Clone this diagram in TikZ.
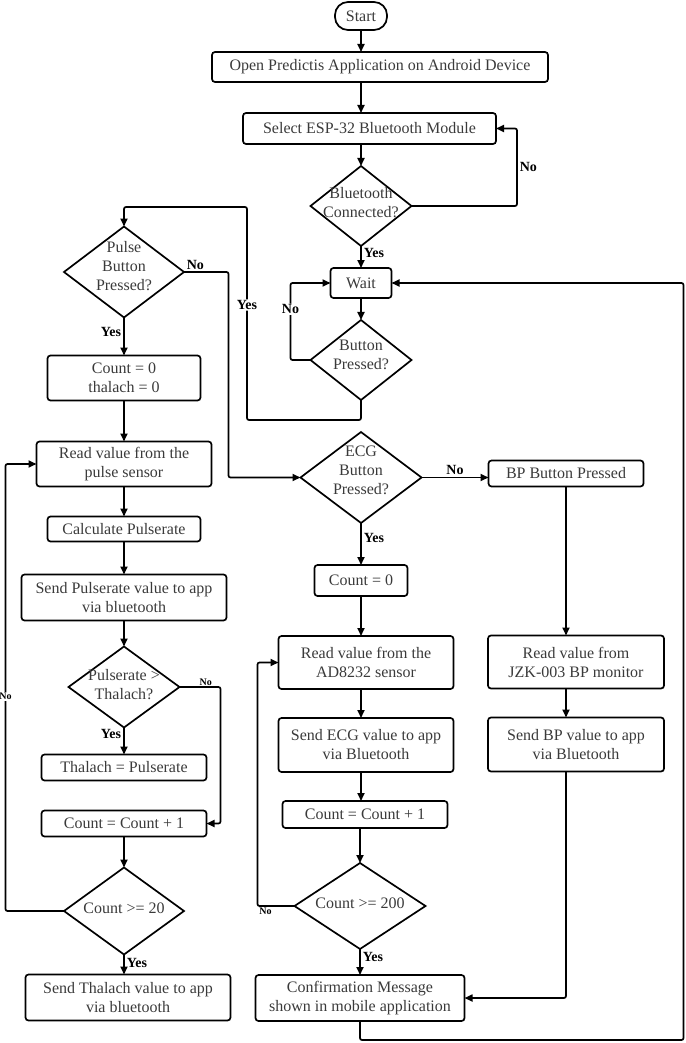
\documentclass[tikz,border=0pt]{standalone}
\usepackage{fontspec}
\setmainfont{Liberation Serif}
\usetikzlibrary{arrows.meta,positioning,shapes.geometric}
\definecolor{ink}{HTML}{3A3A3A}

\begin{document}
\begin{tikzpicture}[
  x=1pt, y=-1pt,
  font=\fontsize{16}{19}\selectfont,
  term/.style={draw,line width=1.7pt,outer sep=0pt,rounded corners=13pt,minimum width=52pt,minimum height=28pt,text=ink},
  box/.style={draw,line width=1.7pt,outer sep=0pt,rounded corners=3pt,align=center,inner sep=2pt,text=ink},
  decision/.style={draw,line width=1.7pt,outer sep=0pt,diamond,inner sep=0pt},
  dtext/.style={text=ink,align=center},
  arrow/.style={-{Triangle[length=8pt,width=7pt]},line width=1.7pt,rounded corners=2pt},
  tag/.style={font=\fontsize{14}{16}\selectfont\bfseries,inner sep=2pt},
  smalltag/.style={font=\fontsize{10}{12}\selectfont\bfseries,inner sep=1pt}
]
\useasboundingbox (0,0) rectangle (685,1043);

% middle column
\node[term] (start) at (361,16) {Start};
\node[box,minimum width=336pt,minimum height=30pt,below=22pt of start,xshift=19pt] (open) {Open Predictis Application on Android Device};
\node[box,minimum width=253pt,minimum height=31pt,below=31pt of open,xshift=-10.5pt] (select) {Select ESP-32 Bluetooth Module};
\node[decision,minimum width=101pt,minimum height=80pt,below=22pt of select,xshift=-8.5pt,
  label={[dtext,yshift=3pt]center:Bluetooth\\Connected?}] (bt) {};
\node[box,minimum width=61pt,minimum height=30pt,below=22pt of bt] (wait) {Wait};
\node[decision,minimum width=101pt,minimum height=80pt,below=22pt of wait,
  label={[dtext,yshift=5pt]center:Button\\Pressed?}] (btn) {};
\node[decision,minimum width=121pt,minimum height=91pt,below=32pt of btn,
  label={[dtext,yshift=7pt]center:ECG\\Button\\Pressed?}] (ecg) {};
\node[box,minimum width=93pt,minimum height=31pt,below=42pt of ecg] (cntb0) {Count = 0};
\node[box,minimum width=175pt,minimum height=53pt,below=40pt of cntb0,xshift=5pt] (readecg) {Read value from the\\AD8232 sensor};
\node[box,minimum width=175pt,minimum height=54pt,below=29pt of readecg] (sendecg) {Send ECG value to app\\via Bluetooth};
\node[box,minimum width=165pt,minimum height=27pt,below=29pt of sendecg,xshift=-1pt] (cntb1) {Count = Count + 1};
\node[decision,minimum width=131pt,minimum height=86pt,below=35pt of cntb1,xshift=-5pt,
  label={[dtext,yshift=3pt]center:Count >= 200}] (c200) {};
\node[box,minimum width=209pt,minimum height=46pt,below=26pt of c200] (confirm) {Confirmation Message\\shown in mobile application};

% left column
\node[decision,minimum width=120pt,minimum height=91pt,
  label={[dtext,yshift=6pt]center:Pulse\\Button\\Pressed?}] (pulse) at (124,272) {};
\node[box,minimum width=153pt,minimum height=45pt,below=38pt of pulse] (cnta0) {Count = 0\\thalach = 0};
\node[box,minimum width=175pt,minimum height=45pt,below=41pt of cnta0] (readp) {Read value from the\\pulse sensor};
\node[box,minimum width=153pt,minimum height=25pt,below=30pt of readp] (calc) {Calculate Pulserate};
\node[box,minimum width=205pt,minimum height=46pt,below=33pt of calc] (sendp) {Send Pulserate value to app\\via bluetooth};
\node[decision,minimum width=111pt,minimum height=81pt,below=26pt of sendp,
  label={[dtext,yshift=2pt]center:Pulserate >\\Thalach?}] (pgt) {};
\node[box,minimum width=165pt,minimum height=26pt,below=27pt of pgt] (thal) {Thalach = Pulserate};
\node[box,minimum width=165pt,minimum height=26pt,below=30pt of thal] (cnta1) {Count = Count + 1};
\node[decision,minimum width=120pt,minimum height=87pt,below=31pt of cnta1,
  label={[dtext,yshift=3pt]center:Count >= 20}] (c20) {};
\node[box,minimum width=205pt,minimum height=46pt,below=20pt of c20,xshift=4pt] (sendt) {Send Thalach value to app\\via bluetooth};

% right column
\node[box,minimum width=155pt,minimum height=26pt,right=67pt of ecg,yshift=4pt] (bp) {BP Button Pressed};
\node[box,minimum width=176pt,minimum height=53pt,below=149pt of bp,xshift=10pt] (readbp) {Read value from\\JZK-003 BP monitor};
\node[box,minimum width=176pt,minimum height=54pt,below=29pt of readbp] (sendbp) {Send BP value to app\\via Bluetooth};

\coordinate (yesbend) at (247,207);

% connectors
\draw[arrow] (start.south) -- (start.south |- open.north);
\draw[arrow] (open.south -| start) -- (select.north -| start);
\draw[arrow] (select.south -| bt) -- (bt.north);
\draw[arrow] (bt.south) -- node[tag,right,pos=0.3]{Yes} (wait.north);
\draw[arrow] (bt.east) -| node[tag,right,pos=0.75]{No} ([xshift=21pt]select.east) -- (select.east);
\draw[arrow] (wait) -- (btn);
\draw[arrow] (btn.west) -| node[tag,fill=white,inner sep=1pt,pos=0.83]{No} ([xshift=-40pt]wait.west) -- (wait.west);
\draw[arrow] (btn.south) -- ++(0,-20pt) -| node[tag,fill=white,inner sep=1pt,pos=0.77]{Yes} (yesbend) -| (pulse.north);
\draw[arrow] (pulse.east) -| node[tag,above right,pos=0]{No} ([xshift=-72pt]ecg.west) -- (ecg.west);
\draw[arrow] (pulse.south) -- node[tag,left,pos=0.37]{Yes} (cnta0.north);
\draw[arrow] (cnta0) -- (readp);
\draw[arrow] (readp) -- (calc);
\draw[arrow] (calc) -- (sendp);
\draw[arrow] (sendp) -- (pgt);
\draw[arrow] (pgt.south) -- node[tag,left,pos=0.25]{Yes} (thal.north);
\draw[arrow] (pgt.east) -| node[smalltag,above,pos=0.32]{No} ([xshift=14pt]cnta1.east) -- (cnta1.east);
\draw[arrow] (cnta1) -- (c20);
\draw[arrow] (c20.west) -| node[smalltag,fill=white,pos=0.74]{No} ([xshift=-31pt]readp.west) -- (readp.west);
\draw[arrow] (c20.south) -- node[tag,right,pos=0.4]{Yes} (c20.south |- sendt.north);
\draw[arrow] (ecg.east) -- node[tag,above]{No} (ecg.east -| bp.west);
\draw[arrow] (ecg.south) -- node[tag,right,pos=0.36]{Yes} (cntb0.north);
\draw[arrow] (cntb0.south) -- (cntb0.south |- readecg.north);
\draw[arrow] (readecg.south -| cntb0) -- (sendecg.north -| cntb0);
\draw[arrow] (sendecg.south -| cntb0) -- (cntb1.north -| cntb0);
\draw[arrow] (cntb1.south -| c200) -- (c200.north);
\draw[arrow] (c200.west) -| node[smalltag,below right,pos=0.5]{No} ([xshift=-21pt]readecg.west) -- (readecg.west);
\draw[arrow] (c200.south) -- node[tag,right,pos=0.3]{Yes} (confirm.north);
\draw[arrow] (bp.south) -- (bp.south |- readbp.north);
\draw[arrow] (readbp.south -| bp) -- (sendbp.north -| bp);
\draw[arrow] (sendbp.south -| bp) |- (confirm.east);
\draw[arrow] (confirm.south) -- ++(0,-19pt) -| ([xshift=292pt]wait.east) -- (wait.east);
\end{tikzpicture}
\end{document}
